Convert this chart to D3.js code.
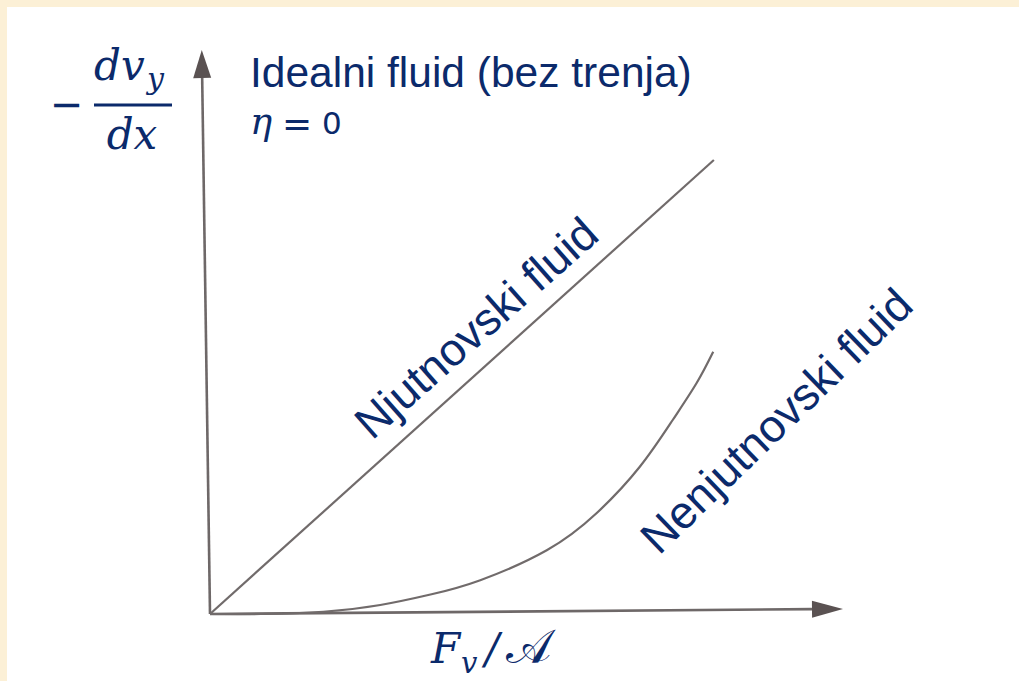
<!DOCTYPE html>
<html>
<head>
<meta charset="utf-8">
<script src="https://cdn.jsdelivr.net/npm/d3@7"></script>
<style>
html,body{margin:0;padding:0;background:#fcf0d6;}
svg{display:block;}
</style>
</head>
<body>
<svg id="chart" width="1019" height="681"></svg>
<script>
// ---- data (axis units: x = F_v/A, y = -dv_y/dx) ----
const newtonX = [0, 7.96];
const newtonY = [0, 8.05];
const nonNewtonX = [0, 0.8, 1.79, 2.69, 3.5, 4.27, 5.32, 6.11, 6.79, 7.31, 7.69, 7.95];
const nonNewtonY = [0, 0.0, 0.04, 0.16, 0.35, 0.6, 1.13, 1.79, 2.61, 3.44, 4.1, 4.65];
const axisXEnd = [10, 0.09];     // x-axis arrow tip
const axisYEnd = [-0.13, 10];    // y-axis arrow tip
const labels = {
  title: "Idealni fluid (bez trenja)",
  newton: "Njutnovski fluid",
  nonNewton: "Nenjutnovski fluid"
};

const svg = d3.select("#chart");
const W = 1019, H = 681;
const navy = "#0b2a6b", grey = "#6e6868";

svg.append("rect").attr("x",0).attr("y",0).attr("width",W).attr("height",H).attr("fill","#fcf0d6");
svg.append("rect").attr("x",7).attr("y",7).attr("width",W-7).attr("height",H-7).attr("fill","#ffffff");

const x = d3.scaleLinear().domain([0,10]).range([210,843]);
const y = d3.scaleLinear().domain([0,10]).range([614,50]);

// axes with arrowheads
function arrow(x0,y0,x1,y1,len,half){
  const dx=x1-x0, dy=y1-y0, L=Math.hypot(dx,dy), ux=dx/L, uy=dy/L;
  const bx=x1-ux*len, by=y1-uy*len;
  svg.append("line").attr("x1",x0).attr("y1",y0).attr("x2",bx).attr("y2",by)
    .attr("stroke",grey).attr("stroke-width",2.6);
  svg.append("path").attr("d",`M${x1},${y1}L${bx-uy*half},${by+ux*half}L${bx+uy*half},${by-ux*half}Z`)
    .attr("fill","#5a5252");
}
arrow(x(0), y(0), x(axisXEnd[0]), y(axisXEnd[1]), 31, 8.5);
arrow(x(0), y(0), x(axisYEnd[0]), y(axisYEnd[1]), 28, 9);

const line = d3.line().x(d=>x(d[0])).y(d=>y(d[1]));
svg.append("path").datum(d3.zip(newtonX,newtonY)).attr("d",line)
  .attr("fill","none").attr("stroke","#716b6b").attr("stroke-width",2.2);
svg.append("path").datum(d3.zip(nonNewtonX,nonNewtonY))
  .attr("d",d3.line().x(d=>x(d[0])).y(d=>y(d[1])).curve(d3.curveNatural))
  .attr("fill","none").attr("stroke","#716b6b").attr("stroke-width",2.2);

// title texts
svg.append("text").attr("x",250).attr("y",87).text(labels.title)
  .attr("font-family","Liberation Sans, Arial, sans-serif").attr("font-size",42.5).attr("fill",navy);
svg.append("text").attr("x",250).attr("y",134).text("η")
  .attr("font-family","DejaVu Serif").attr("font-style","italic").attr("font-size",37).attr("fill",navy);
svg.append("text").attr("x",282).attr("y",136).text("=")
  .attr("font-family","DejaVu Sans").attr("font-size",36).attr("fill",navy);
svg.append("text").attr("x",322).attr("y",134).text("0")
  .attr("font-family","DejaVu Sans").attr("font-size",31).attr("fill",navy);

// y label  -dv_y/dx
svg.append("text").attr("x",50).attr("y",118).text("−")
  .attr("font-family","DejaVu Sans").attr("font-size",40).attr("fill",navy);
const num = svg.append("text").attr("y",80)
  .attr("font-family","DejaVu Serif").attr("font-style","italic").attr("font-size",42).attr("fill",navy);
num.append("tspan").attr("x",94).text("dv");
num.append("tspan").attr("x",147).attr("dy",9).attr("font-size",30).text("y");
svg.append("line").attr("x1",94).attr("x2",172).attr("y1",105).attr("y2",105)
  .attr("stroke",navy).attr("stroke-width",2.8);
svg.append("text").attr("x",132).attr("y",149).attr("text-anchor","middle").text("dx")
  .attr("font-family","DejaVu Serif").attr("font-style","italic").attr("font-size",42).attr("fill",navy);

// x label  F_v/A
svg.append("text").attr("x",431).attr("y",663).text("F")
  .attr("font-family","DejaVu Serif").attr("font-style","italic").attr("font-size",42).attr("fill",navy);
svg.append("text").attr("x",461).attr("y",673).text("v")
  .attr("font-family","DejaVu Serif").attr("font-style","italic").attr("font-size",29).attr("fill",navy);
svg.append("text").attr("x",485).attr("y",663).text("/")
  .attr("font-family","DejaVu Serif").attr("font-style","italic").attr("font-size",42).attr("fill",navy);
svg.append("text").attr("x",506).attr("y",663).text("𝒜")
  .attr("font-family","DejaVu Sans, DejaVu Serif, Noto Sans").attr("font-size",48).attr("fill",navy);

// rotated labels
svg.append("text").attr("transform","translate(372,441) rotate(-41.5)").text(labels.newton)
  .attr("font-family","Liberation Sans, Arial, sans-serif").attr("font-size",45.5).attr("fill",navy);
svg.append("text").attr("transform","translate(659,556) rotate(-44)").text(labels.nonNewton)
  .attr("font-family","Liberation Sans, Arial, sans-serif").attr("font-size",45.5).attr("fill",navy);
</script>
</body>
</html>
